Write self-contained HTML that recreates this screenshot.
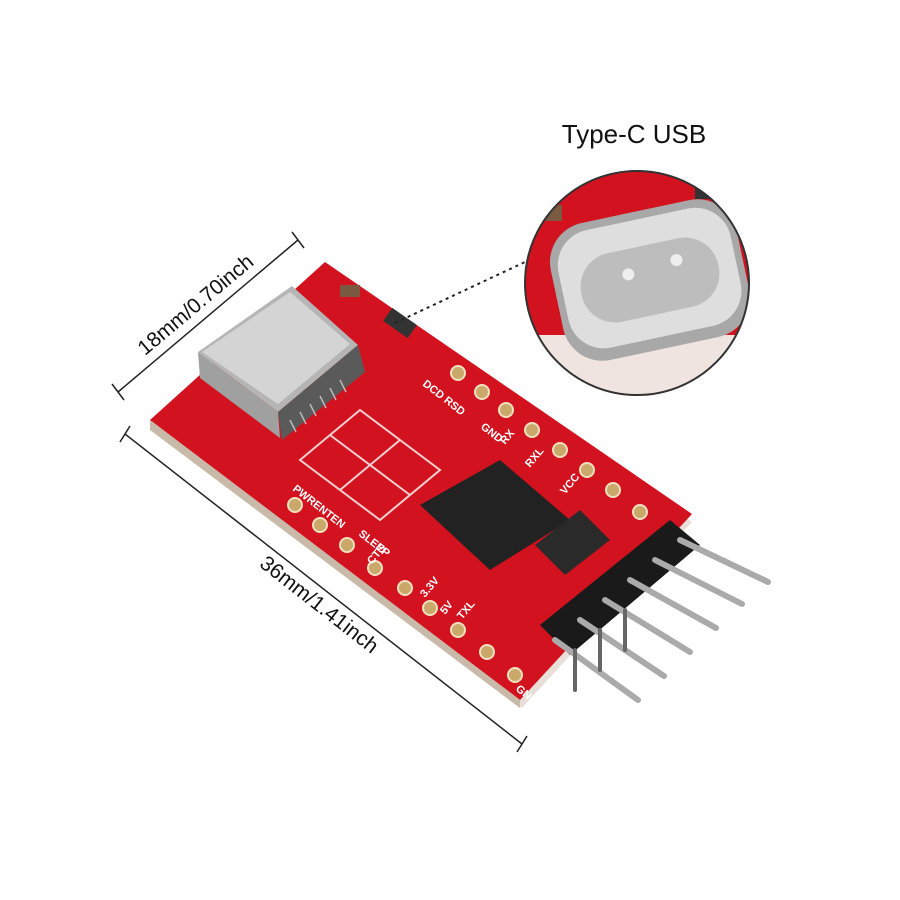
<!DOCTYPE html>
<html><head><meta charset="utf-8"><style>
html,body{margin:0;padding:0;background:#fff;}
svg{display:block}
text{font-family:"Liberation Sans",sans-serif}
</style></head><body>
<svg width="900" height="900" viewBox="0 0 900 900" xmlns="http://www.w3.org/2000/svg">
<rect width="900" height="900" fill="#fff"/>
<g stroke="#222" stroke-width="1.5" fill="none">
<line x1="118" y1="392" x2="298" y2="240"/>
<line x1="112" y1="384" x2="124" y2="400"/>
<line x1="292" y1="232" x2="304" y2="248"/>
<line x1="125" y1="434" x2="522" y2="744"/>
<line x1="130" y1="426" x2="120" y2="442"/>
<line x1="527" y1="736" x2="517" y2="752"/>
</g>
<text x="0" y="0" font-size="21" fill="#111" transform="translate(200,310) rotate(-40)" text-anchor="middle">18mm/0.70inch</text>
<text x="0" y="0" font-size="21" fill="#111" transform="translate(315,610) rotate(38)" text-anchor="middle">36mm/1.41inch</text>
<polygon points="150,428 325,270 692,522 522,708" fill="#e8e0d8"/>
<polygon points="150,420 325,262 692,514 520,700" fill="#d3121f"/>
<polygon points="150,420 150,430 520,708 520,700" fill="#c9b9a8"/>
<g stroke="#f3d0d0" stroke-width="2" fill="none">
<polygon points="300,460 360,410 440,470 380,520"/>
<line x1="330" y1="435" x2="410" y2="495"/>
<line x1="400" y1="440" x2="340" y2="490"/>
</g>
<polygon points="540,625 670,520 700,545 570,655" fill="#1a1a1a"/>
<g stroke="#aaa" stroke-width="6" stroke-linecap="round">
<line x1="680" y1="540" x2="768" y2="582"/>
<line x1="655" y1="560" x2="742" y2="604"/>
<line x1="630" y1="580" x2="716" y2="628"/>
<line x1="605" y1="600" x2="690" y2="652"/>
<line x1="580" y1="620" x2="664" y2="676"/>
<line x1="555" y1="640" x2="638" y2="700"/>
</g>
<g stroke="#666" stroke-width="4" stroke-linecap="round">
<line x1="575" y1="650" x2="575" y2="690"/>
<line x1="600" y1="630" x2="600" y2="670"/>
<line x1="625" y1="610" x2="625" y2="650"/>
</g>
<!-- USB connector (box) -->
<polygon points="198,352 292,286 358,345 278,412" fill="#b5b5b5"/>
<polygon points="202,352 290,292 350,344 278,404" fill="#d4d4d4"/>
<polygon points="198,352 278,412 280,438 200,378" fill="#a0a0a0"/>
<polygon points="278,412 358,345 365,372 282,440" fill="#5a5a5a"/>
<g stroke="#bbb" stroke-width="1.5">
<line x1="290" y1="420" x2="296" y2="432"/><line x1="300" y1="412" x2="306" y2="424"/><line x1="310" y1="404" x2="316" y2="416"/><line x1="320" y1="396" x2="326" y2="408"/><line x1="330" y1="388" x2="336" y2="400"/><line x1="340" y1="380" x2="346" y2="392"/>
</g>
<polygon points="420,505 500,460 570,520 490,570" fill="#222"/>
<polygon points="535,545 580,510 610,540 565,575" fill="#2a2a2a"/>
<g fill="#c9a86a" stroke="#f0e0c0" stroke-width="2">
<circle cx="458" cy="373" r="7"/><circle cx="482" cy="392" r="7"/><circle cx="506" cy="410" r="7"/><circle cx="532" cy="430" r="7"/><circle cx="560" cy="450" r="7"/><circle cx="587" cy="470" r="7"/><circle cx="613" cy="490" r="7"/><circle cx="640" cy="512" r="7"/>
<circle cx="295" cy="505" r="7"/><circle cx="320" cy="525" r="7"/><circle cx="347" cy="545" r="7"/><circle cx="375" cy="568" r="7"/><circle cx="405" cy="588" r="7"/><circle cx="430" cy="608" r="7"/><circle cx="458" cy="630" r="7"/><circle cx="487" cy="652" r="7"/><circle cx="515" cy="675" r="7"/>
</g>
<g fill="#fff" font-size="11" font-weight="bold">
<text transform="translate(422,385) rotate(38)">DCD RSD</text>
<text transform="translate(480,428) rotate(38)">GND</text>
<text transform="translate(505,445) rotate(-50)">RX</text>
<text transform="translate(530,468) rotate(-50)">RXL</text>
<text transform="translate(565,495) rotate(-50)">VCC</text>
<text transform="translate(292,490) rotate(38)">PWRENTEN</text>
<text transform="translate(358,535) rotate(38)">SLEEP</text>
<text transform="translate(372,565) rotate(-50)">CTS</text>
<text transform="translate(425,598) rotate(-50)">3.3V</text>
<text transform="translate(445,615) rotate(-50)">5V</text>
<text transform="translate(462,620) rotate(-50)">TXL</text>
<text transform="translate(515,690) rotate(38)">GND</text>
</g>
<rect x="385" y="315" width="30" height="16" fill="#333" transform="rotate(35 400 323)"/>
<rect x="340" y="285" width="20" height="12" fill="#7a5a40"/>
<line x1="395" y1="323" x2="525" y2="262" stroke="#222" stroke-width="2" stroke-dasharray="3,4"/>
<defs><clipPath id="c"><circle cx="637" cy="283" r="112"/></clipPath></defs>
<g clip-path="url(#c)">
<rect x="520" y="165" width="240" height="240" fill="#d3121f"/>
<rect x="525" y="335" width="240" height="70" fill="#f0e4e0"/>
<g transform="translate(650,280) rotate(-12)">
<rect x="-95" y="-70" width="190" height="140" rx="40" fill="#a8a8a8"/>
<rect x="-88" y="-62" width="176" height="120" rx="36" fill="#dedede"/>
<rect x="-70" y="-35" width="140" height="70" rx="34" fill="#bdbdbd"/>
<circle cx="-20" cy="-10" r="6" fill="#eee"/><circle cx="30" cy="-14" r="6" fill="#eee"/>
</g>
<rect x="695" y="185" width="20" height="14" fill="#333"/>
<rect x="540" y="205" width="22" height="16" fill="#7a5a40"/>
</g>
<circle cx="637" cy="283" r="112" fill="none" stroke="#333" stroke-width="2"/>
<text x="634" y="143" font-size="26" fill="#111" text-anchor="middle">Type-C USB</text>
</svg>
</body></html>
